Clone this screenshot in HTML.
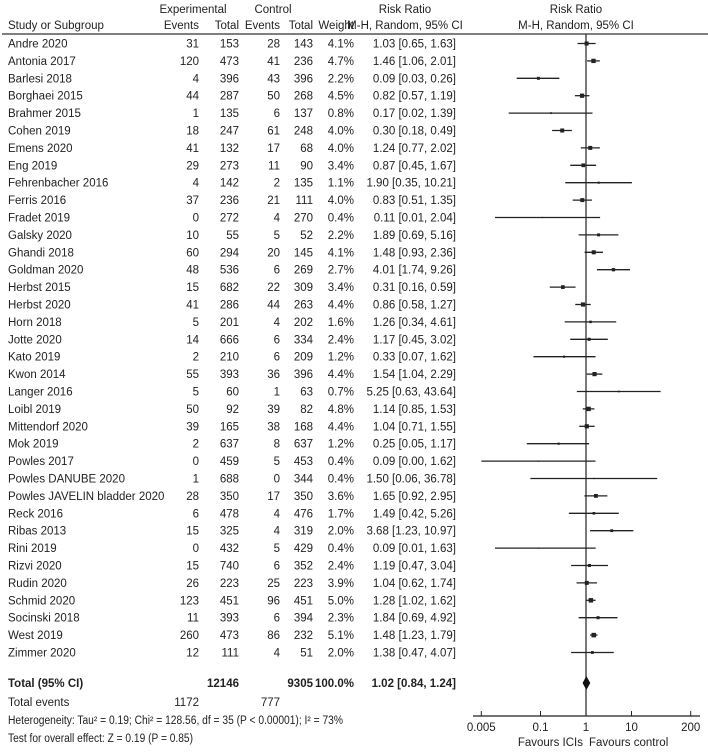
<!DOCTYPE html>
<html><head><meta charset="utf-8"><style>
body{margin:0;background:#fff}
svg{display:block;font-family:"Liberation Sans",sans-serif;font-size:11.5px;fill:#222}
</style></head><body>
<svg id="plot" width="708" height="752" viewBox="0 0 708 752">
<g>
<text x="193" y="13" text-anchor="middle">Experimental</text>
<text x="273" y="13" text-anchor="middle">Control</text>
<text x="405" y="13" text-anchor="middle">Risk Ratio</text>
<text x="576" y="13" text-anchor="middle">Risk Ratio</text>
<text x="8" y="29">Study or Subgroup</text>
<text x="199" y="29" text-anchor="end">Events</text>
<text x="239" y="29" text-anchor="end">Total</text>
<text x="280" y="29" text-anchor="end">Events</text>
<text x="313" y="29" text-anchor="end">Total</text>
<text x="354" y="29" text-anchor="end">Weight</text>
<text x="405" y="29" text-anchor="middle">M-H, Random, 95% CI</text>
<text x="576" y="29" text-anchor="middle">M-H, Random, 95% CI</text>
<line x1="2" y1="34" x2="708" y2="34" stroke="#555" stroke-width="1.5"/>
</g>
<g id="rows"></g>
<g id="marks"></g>
<g>
<text x="8" y="687" font-weight="bold">Total (95% CI)</text>
<text x="239" y="687" text-anchor="end" font-weight="bold">12146</text>
<text x="313" y="687" text-anchor="end" font-weight="bold">9305</text>
<text x="354" y="687" text-anchor="end" font-weight="bold">100.0%</text>
<text x="456" y="687" text-anchor="end" font-weight="bold">1.02 [0.84, 1.24]</text>
<text x="8" y="706">Total events</text>
<text x="199" y="706" text-anchor="end">1172</text>
<text x="280" y="706" text-anchor="end">777</text>
<text x="8" y="724" textLength="335" lengthAdjust="spacingAndGlyphs">Heterogeneity: Tau² = 0.19; Chi² = 128.56, df = 35 (P &lt; 0.00001); I² = 73%</text>
<text x="8" y="742" textLength="185" lengthAdjust="spacingAndGlyphs">Test for overall effect: Z = 0.19 (P = 0.85)</text>
</g>
</svg>
<script>
const names=["Andre 2020","Antonia 2017","Barlesi 2018","Borghaei 2015","Brahmer 2015","Cohen 2019","Emens 2020","Eng 2019","Fehrenbacher 2016","Ferris 2016","Fradet 2019","Galsky 2020","Ghandi 2018","Goldman 2020","Herbst 2015","Herbst 2020","Horn 2018","Jotte 2020","Kato 2019","Kwon 2014","Langer 2016","Loibl 2019","Mittendorf 2020","Mok 2019","Powles 2017","Powles DANUBE 2020","Powles JAVELIN bladder 2020","Reck 2016","Ribas 2013","Rini 2019","Rizvi 2020","Rudin 2020","Schmid 2020","Socinski 2018","West 2019","Zimmer 2020"];
const expEvents=[31,120,4,44,1,18,41,29,4,37,0,10,60,48,15,41,5,14,2,55,5,50,39,2,0,1,28,6,15,0,15,26,123,11,260,12];
const expTotal=[153,473,396,287,135,247,132,273,142,236,272,55,294,536,682,286,201,666,210,393,60,92,165,637,459,688,350,478,325,432,740,223,451,393,473,111];
const ctrlEvents=[28,41,43,50,6,61,17,11,2,21,4,5,20,6,22,44,4,6,6,36,1,39,38,8,5,0,17,4,4,5,6,25,96,6,86,4];
const ctrlTotal=[143,236,396,268,137,248,68,90,135,111,270,52,145,269,309,263,202,334,209,396,63,82,168,637,453,344,350,476,319,429,352,223,451,394,232,51];
const weights=[4.1,4.7,2.2,4.5,0.8,4.0,4.0,3.4,1.1,4.0,0.4,2.2,4.1,2.7,3.4,4.4,1.6,2.4,1.2,4.4,0.7,4.8,4.4,1.2,0.4,0.4,3.6,1.7,2.0,0.4,2.4,3.9,5.0,2.3,5.1,2.0];
const rr=[1.03,1.46,0.09,0.82,0.17,0.30,1.24,0.87,1.90,0.83,0.11,1.89,1.48,4.01,0.31,0.86,1.26,1.17,0.33,1.54,5.25,1.14,1.04,0.25,0.09,1.50,1.65,1.49,3.68,0.09,1.19,1.04,1.28,1.84,1.48,1.38];
const lo=[0.65,1.06,0.03,0.57,0.02,0.18,0.77,0.45,0.35,0.51,0.01,0.69,0.93,1.74,0.16,0.58,0.34,0.45,0.07,1.04,0.63,0.85,0.71,0.05,0.00,0.06,0.92,0.42,1.23,0.01,0.47,0.62,1.02,0.69,1.23,0.47];
const hi=[1.63,2.01,0.26,1.19,1.39,0.49,2.02,1.67,10.21,1.35,2.04,5.16,2.36,9.26,0.59,1.27,4.61,3.02,1.62,2.29,43.64,1.53,1.55,1.17,1.62,36.78,2.95,5.26,10.97,1.63,3.04,1.74,1.62,4.92,1.79,4.07];
const pooled=[1.02,0.84,1.24];
const ticks=[0.005,0.1,1,10,200];
const NS="http://www.w3.org/2000/svg";
const X0=586,DEC=45.5,MINV=0.005,MAXV=200;
function xs(v){v=Math.max(MINV,Math.min(MAXV,v));return X0+Math.log10(v)*DEC;}
function ys(i){return 43.5+i*17.4;}
function mk(tag,attrs,parent,txt){const e=document.createElementNS(NS,tag);for(const k in attrs)e.setAttribute(k,attrs[k]);if(txt!==undefined)e.textContent=txt;parent.appendChild(e);return e;}
const rows=document.getElementById('rows'),marks=document.getElementById('marks'),svg=document.getElementById('plot');
const f=v=>v.toFixed(2);
names.forEach((n,i)=>{
 const y=ys(i)+4;
 const g=mk('g',{},rows);
 
 
 const cols=[[8,n,'start'],[199,expEvents[i],'end'],[239,expTotal[i],'end'],[280,ctrlEvents[i],'end'],[313,ctrlTotal[i],'end'],[354,weights[i].toFixed(1)+'%','end'],[456,f(rr[i])+' ['+f(lo[i])+', '+f(hi[i])+']','end']];
 cols.forEach(c=>{const t=mk('text',{x:c[0],y:y,'text-anchor':c[2]},g,String(c[1]));
  
  });
 const cy=ys(i);
 const l=mk('line',{x1:xs(lo[i]),x2:xs(hi[i]),y1:cy,y2:cy,stroke:'#222','stroke-width':1.3},marks);
 
 
 const s=2*Math.sqrt(weights[i]);
 const r=mk('rect',{x:xs(rr[i])-s/2,y:cy-s/2,width:s,height:s,fill:'#222'},marks);
 
 
});
const vl=mk('line',{x1:X0,x2:X0,y1:34,y2:716,stroke:'#222','stroke-width':1.2},svg);


const dy=683;
const dm=mk('polygon',{points:`${xs(pooled[1])},${dy} ${xs(pooled[0])},${dy-7} ${xs(pooled[2])},${dy} ${xs(pooled[0])},${dy+7}`,fill:'#111'},svg);


const ax=mk('line',{x1:473,x2:700,y1:716,y2:716,stroke:'#222','stroke-width':1.2},svg);


ticks.forEach(t=>{
 const tl=mk('line',{x1:xs(t),x2:xs(t),y1:711,y2:716,stroke:'#222'},svg);
 
 
 const tx=mk('text',{x:xs(t),y:731,'text-anchor':'middle'},svg,String(t));
 
 
});
const fa=mk('text',{x:X0-3,y:746,'text-anchor':'end'},svg,'Favours ICIs');


const fb=mk('text',{x:X0+3,y:746,'text-anchor':'start'},svg,'Favours control');


</script>
</body></html>
